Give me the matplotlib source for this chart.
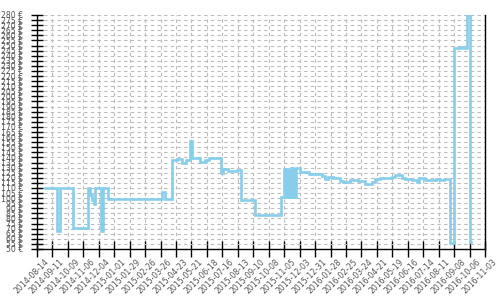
import matplotlib
matplotlib.use("Agg")
import matplotlib.pyplot as plt
import matplotlib.dates as mdates
from matplotlib.transforms import ScaledTranslation
import pandas as pd

# ---- data (price change points, step chart) ----
change_dates = [
    "2014-08-28", "2014-09-20", "2014-09-25", "2014-10-18", "2014-11-14",
    "2014-11-18", "2014-11-22", "2014-11-26", "2014-11-28", "2014-12-08",
    "2014-12-12", "2014-12-21", "2015-03-28", "2015-04-03", "2015-04-15",
    "2015-04-24", "2015-05-03", "2015-05-11", "2015-05-19", "2015-05-22",
    "2015-06-05", "2015-06-14", "2015-06-22", "2015-07-13", "2015-07-18",
    "2015-07-27", "2015-08-11", "2015-08-18", "2015-09-13", "2015-10-30",
    # rapid daily oscillation
    "2015-11-05", "2015-11-06", "2015-11-07", "2015-11-08", "2015-11-09",
    "2015-11-10", "2015-11-11", "2015-11-12", "2015-11-13", "2015-11-14",
    "2015-11-15", "2015-11-16", "2015-11-17", "2015-11-18", "2015-11-19",
    "2015-11-20", "2015-11-21", "2015-11-22", "2015-11-23", "2015-11-24",
    "2015-11-25", "2015-11-26", "2015-11-27",
    "2015-12-04", "2015-12-20", "2016-01-12", "2016-01-18", "2016-01-24",
    "2016-02-02", "2016-02-14", "2016-02-19", "2016-03-03", "2016-03-18",
    "2016-03-31", "2016-04-12", "2016-04-18", "2016-04-27", "2016-05-18",
    "2016-05-24", "2016-06-05", "2016-06-11", "2016-06-23", "2016-07-02",
    "2016-07-06", "2016-07-17", "2016-08-07", "2016-08-13", "2016-08-21",
    "2016-08-31", "2016-09-08", "2016-09-19", "2016-09-25", "2016-10-01",
    "2016-10-07", "2016-10-08",
]
prices = [
    110, 68, 110, 71, 110,
    103, 98, 94, 110, 67.5,
    110, 99, 106, 99, 137.5,
    138.5, 135, 137, 156.5, 139.5,
    136, 137.5, 139.5, 124.5, 128.3,
    127, 128, 98, 83, 101,
    128.5, 101, 128.5, 101, 128.5,
    101, 128.5, 101, 128.5, 101,
    128.5, 101, 128.5, 129.3, 101,
    129.3, 101, 129.3, 101, 129.3,
    101, 129.3, 129.3,
    126, 124, 121.8, 119.2, 121,
    119.5, 117.1, 116.2, 117.8, 117,
    113.9, 115.5, 118.5, 119.8, 121,
    122.7, 120, 118.8, 117.8, 115.9,
    119.5, 117.8, 118.5, 118, 119,
    56, 247.5, 249, 247.5, 280,
    57, 57,
]

x_tick_labels = [
    "2014-08-14", "2014-09-11", "2014-10-09", "2014-11-06", "2014-12-04",
    "2015-01-01", "2015-01-29", "2015-02-26", "2015-03-26", "2015-04-23",
    "2015-05-21", "2015-06-18", "2015-07-16", "2015-08-13", "2015-09-10",
    "2015-10-08", "2015-11-05", "2015-12-03", "2015-12-31", "2016-01-28",
    "2016-02-25", "2016-03-24", "2016-04-21", "2016-05-19", "2016-06-16",
    "2016-07-14", "2016-08-11", "2016-09-08", "2016-10-06", "2016-11-03",
]
y_ticks = list(range(50, 281, 5))
y_tick_labels = [f"{v} €" for v in y_ticks]

# ---- figure ----
fig = plt.figure(figsize=(5, 3), dpi=100)
ax = fig.add_axes([0.074, 0.17, 0.896, 0.78])

dates = pd.to_datetime(change_dates)
ax.plot(dates, prices, drawstyle="steps-post", color="#87CEEB", lw=1.9,
        solid_joinstyle="miter")

xt = pd.to_datetime(x_tick_labels)
ax.set_xlim(xt[0], xt[-1])
ax.set_ylim(50, 280)
ax.set_xticks(xt)
ax.set_xticklabels(x_tick_labels, rotation=45, ha="right", va="center",
                   rotation_mode="anchor", fontsize=5.6, color="#555555")
ax.set_yticks(y_ticks)
ax.set_yticklabels(y_tick_labels, fontsize=5.6, color="#555555")

ax.tick_params(axis="x", direction="inout", length=12, width=1, pad=2.5)
ax.tick_params(axis="y", direction="inout", length=8, width=1, pad=6)

for lbl in ax.get_xticklabels():
    lbl.set_transform(lbl.get_transform() + ScaledTranslation(10/100, 0, fig.dpi_scale_trans))

ax.grid(True, color="#bbbbbb", linestyle=(0, (3, 3)), linewidth=0.8)
ax.set_axisbelow(True)
ax.spines["top"].set_visible(False)
for s in ["left", "bottom", "right"]:
    ax.spines[s].set_color("black")
    ax.spines[s].set_linewidth(1)

fig.savefig("out.png", dpi=100)
